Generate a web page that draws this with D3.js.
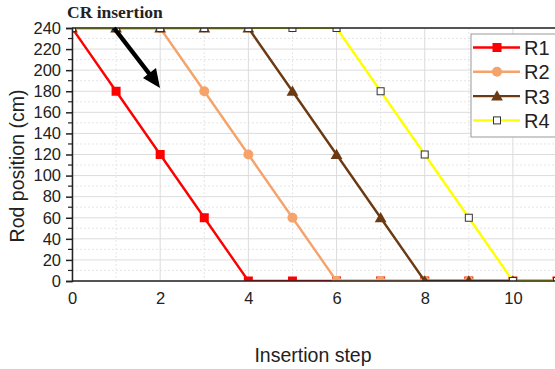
<!DOCTYPE html>
<meta charset="utf-8">
<style>
  body { margin: 0; background: #fff; }
  text { font-family: "Liberation Sans", Arial, sans-serif; fill: #222; }
</style>
<body>
<svg width="555" height="369"></svg>
<script src="https://d3js.org/d3.v7.min.js"></script>
<script>
var steps = [0, 1, 2, 3, 4, 5, 6, 7, 8, 9, 10, 11];
var r1 = [240, 180, 120, 60, 0, 0, 0, 0, 0, 0, 0, 0];
var r2 = [240, 240, 240, 180, 120, 60, 0, 0, 0, 0, 0, 0];
var r3 = [240, 240, 240, 240, 240, 180, 120, 60, 0, 0, 0, 0];
var r4 = [240, 240, 240, 240, 240, 240, 240, 180, 120, 60, 0, 0];
var seriesNames = ["R1", "R2", "R3", "R4"];
var xTicks = [0, 2, 4, 6, 8, 10];
var yTicks = [0, 20, 40, 60, 80, 100, 120, 140, 160, 180, 200, 220, 240];

var series = [
    { name: "R1", values: r1, color: "#ff0000", marker: "square" },
    { name: "R2", values: r2, color: "#f5a36a", marker: "circle" },
    { name: "R3", values: r3, color: "#6b3a12", marker: "triangle" },
    { name: "R4", values: r4, color: "#ffff00", marker: "hollow" }
];

var svg = d3.select("svg");
var mLeft = 72, mTop = 28, mRight = 557, mBottom = 281;

var x = d3.scaleLinear().domain([0, 11]).range([mLeft, mRight]);
var y = d3.scaleLinear().domain([0, 240]).range([mBottom, mTop]);

svg.append("defs").append("clipPath").attr("id", "plotclip")
    .append("rect").attr("x", mLeft).attr("y", mTop)
    .attr("width", mRight - mLeft).attr("height", mBottom - mTop);

// grid
var grid = svg.append("g");
d3.range(0, 241, 10).forEach(function(v) {
    grid.append("line")
        .attr("x1", mLeft).attr("x2", mRight).attr("y1", y(v)).attr("y2", y(v))
        .attr("stroke", v % 20 == 0 ? "#dcdcdc" : "#e6e6e6")
        .attr("stroke-dasharray", v % 20 == 0 ? null : "2,2");
});
d3.range(0, 12, 1).forEach(function(v) {
    grid.append("line")
        .attr("x1", x(v)).attr("x2", x(v)).attr("y1", mTop).attr("y2", mBottom)
        .attr("stroke", v % 2 == 0 ? "#dcdcdc" : "#e6e6e6")
        .attr("stroke-dasharray", v % 2 == 0 ? null : "2,2");
});

// lines and markers
var line = d3.line()
    .x(function(d, i) { return x(steps[i]); })
    .y(function(d) { return y(d); });

var plot = svg.append("g").attr("clip-path", "url(#plotclip)");

function drawMarker(g, type, color, cx, cy) {
    if (type == "square") {
        g.append("rect").attr("x", cx - 4.5).attr("y", cy - 4.5).attr("width", 9).attr("height", 9).attr("fill", color);
    } else if (type == "circle") {
        g.append("circle").attr("cx", cx).attr("cy", cy).attr("r", 5).attr("fill", color);
    } else if (type == "triangle") {
        g.append("path").attr("d", d3.symbol(d3.symbolTriangle, 60)()).attr("transform", "translate(" + cx + "," + (cy + 1) + ")").attr("fill", color);
    } else {
        g.append("rect").attr("x", cx - 3.5).attr("y", cy - 3.5).attr("width", 7).attr("height", 7)
            .attr("fill", "#fff").attr("stroke", "#333").attr("stroke-width", 1);
    }
}

series.forEach(function(s) {
    plot.append("path")
        .datum(s.values)
        .attr("d", line)
        .attr("fill", "none")
        .attr("stroke", s.color)
        .attr("stroke-width", 2.4);
    s.values.forEach(function(v, i) {
        drawMarker(plot, s.marker, s.color, x(steps[i]), y(v));
    });
});

// axes
svg.append("line").attr("x1", mLeft).attr("x2", mRight).attr("y1", mTop).attr("y2", mTop).attr("stroke", "#222").attr("stroke-width", 1.5);
svg.append("line").attr("x1", mLeft).attr("x2", mRight).attr("y1", mBottom).attr("y2", mBottom).attr("stroke", "#222").attr("stroke-width", 1.5);

var yAxis = svg.append("g").attr("transform", "translate(" + mLeft + ",0)")
    .call(d3.axisLeft(y).tickValues(yTicks).tickSize(6).tickPadding(5));
yAxis.select(".domain").attr("stroke", "#222").attr("stroke-width", 1.5);
yAxis.selectAll(".tick line").attr("stroke", "#222").attr("stroke-width", 1.5);
yAxis.selectAll("text").style("font-size", "16.5px").attr("fill", "#222");
d3.range(10, 240, 20).forEach(function(v) {
    svg.append("line").attr("x1", mLeft - 4).attr("x2", mLeft).attr("y1", y(v)).attr("y2", y(v))
        .attr("stroke", "#222").attr("stroke-width", 1.2);
});

var xAxis = svg.append("g").attr("transform", "translate(0," + mBottom + ")")
    .call(d3.axisBottom(x).tickValues(xTicks).tickSize(0).tickPadding(11));
xAxis.select(".domain").remove();
xAxis.selectAll("text").style("font-size", "16.5px").attr("fill", "#222");

svg.append("text").attr("x", 313).attr("y", 362).attr("text-anchor", "middle")
    .style("font-size", "19.5px").text("Insertion step");
svg.append("text").attr("transform", "translate(24,166) rotate(-90)").attr("text-anchor", "middle")
    .style("font-size", "19.5px").text("Rod position (cm)");

// annotation
svg.append("text").attr("x", 67).attr("y", 18)
    .style("font-family", "'Liberation Serif', 'Times New Roman', serif")
    .style("font-weight", "bold").style("font-size", "17.5px").text("CR insertion");
svg.append("line").attr("x1", 114).attr("y1", 28).attr("x2", 151).attr("y2", 76)
    .attr("stroke", "#000").attr("stroke-width", 4.5);
svg.append("path").attr("d", "M160,88 L143,78 L156,68 Z").attr("fill", "#000");

// legend
var legend = svg.append("g");
legend.append("rect").attr("x", 471).attr("y", 34).attr("width", 90).attr("height", 103)
    .attr("fill", "#fff").attr("stroke", "#999").attr("stroke-width", 1);
series.forEach(function(s, i) {
    var ly = 47.5 + i * 24.3;
    legend.append("line").attr("x1", 473).attr("x2", 520).attr("y1", ly).attr("y2", ly)
        .attr("stroke", s.color).attr("stroke-width", 2.4);
    drawMarker(legend, s.marker, s.color, 497, ly);
    legend.append("text").attr("x", 524).attr("y", ly + 7.5).style("font-size", "20px").text(seriesNames[i]);
});
</script>
</body>
